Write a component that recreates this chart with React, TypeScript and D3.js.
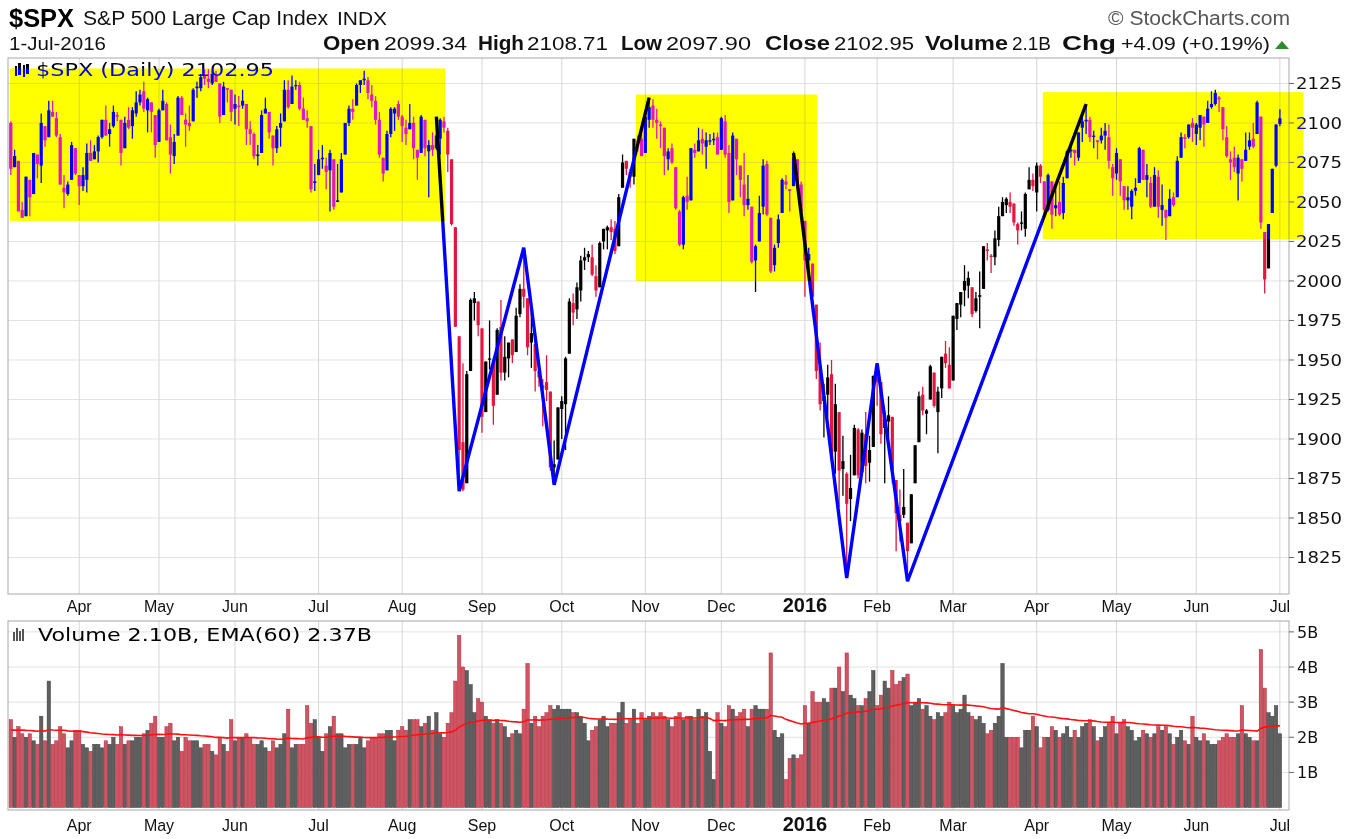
import React from 'react';
import * as d3 from 'd3';

// ---------- calendar ----------
const startDate = '2015-03-06';
const endDate = '2016-07-01';
const holidays = ['2015-04-03', '2015-05-25', '2015-07-03', '2015-09-07', '2015-11-26', '2015-12-25', '2016-01-01', '2016-01-18', '2016-02-15', '2016-03-25', '2016-05-30'];

// ---------- daily OHLC (S&P 500) ----------
const opens = [
  2100,2072,2076,2045,2041,2064,2055,2080,2073,2098,2091,2107,2103,2091,2059,2055,2064,2084,
  2067,2060,2064,2081,2077,2082,2091,2102,2093,2098,2104,2102,2084,2102,2098,2106,2113,2120,2108,2113,2105,
  2088,2108,2112,2091,2079,2092,2116,2102,2100,2101,2122,2122,2130,2128,2125,2130,2125,2105,2122,2121,
  2109,2111,2111,2112,2096,2093,2079,2081,2106,2107,2092,2084,2097,2101,2121,2112,2124,2124,2109,2103,2098,2062,
  2067,2078,2073,2070,2077,2050,2056,2080,2100,2109,2111,2124,2127,2127,2118,2114,2102,2078,2070,2093,2106,2112,
  2104,2097,2096,2100,2083,2081,2102,2082,2086,2084,2090,2101,2095,2077,2034,1965,1898,1872,1943,1986,1987,
  1970,1917,1951,1948,1928,1971,1942,1951,1963,1955,1979,1995,1989,1961,1960,1943,1934,1936,1930,1882,1887,
  1919,1922,1954,1986,1982,1994,2013,2015,2015,2003,1996,2025,2032,2034,2033,2022,2059,2076,2069,2066,2089,2090,
  2081,2102,2111,2102,2098,2097,2077,2084,2072,2044,2023,2054,2051,2083,2082,2090,2085,2089,2089,2091,
  2083,2101,2081,2051,2090,2073,2061,2048,2047,2013,2025,2047,2074,2040,2010,2024,2043,2063,2058,2060,2077,2061,
  2038,2013,2011,1985,1946,1927,1928,1941,1892,1917,1886,1878,1862,1877,1906,1879,1903,1885,1895,
  1936,1936,1907,1911,1914,1874,1848,1857,1847,1834,1872,1898,1928,1916,1925,1942,1917,1932,1954,1947,
  1937,1976,1985,1994,1997,1996,1981,1991,1995,2019,2016,2015,2026,2041,2048,2047,2049,2032,2037,2033,2058,2064,
  2056,2073,2063,2045,2063,2046,2050,2043,2065,2082,2083,2078,2097,2101,2102,2092,2089,2089,2092,2091,2072,
  2068,2077,2060,2053,2047,2057,2062,2083,2067,2062,2047,2066,2045,2045,2041,2053,2053,2078,2091,2091,2100,
  2093,2097,2104,2100,2110,2112,2116,2110,2091,2077,2078,2068,2077,2076,2085,2090,2093,2104,2031,2008,2043,2073,
  2099.34,
];
const highs = [
  2101,2083,2076,2050,2066,2064,2081,2080,2106,2098,2114,2114,2107,2093,2067,2063,2088,2084,
  2067,2072,2087,2089,2086,2092,2102,2111,2100,2111,2107,2102,2104,2110,2110,2120,2121,2126,2116,2113,2105,
  2109,2121,2113,2099,2093,2117,2117,2106,2111,2122,2126,2131,2134,2134,2133,2133,2125,2126,2122,2121,
  2118,2117,2121,2112,2101,2094,2086,2108,2116,2107,2092,2098,2106,2127,2127,2130,2127,2126,2116,2108,2098,2074,
  2083,2086,2078,2083,2077,2074,2081,2100,2111,2115,2125,2127,2133,2129,2124,2117,2107,2078,2095,2110,2110,2114,
  2105,2102,2112,2104,2083,2105,2102,2089,2094,2093,2103,2104,2097,2077,2034,1965,1948,1943,1989,1993,1987,
  1970,1949,1975,1948,1970,1988,1965,1961,1963,1983,1998,2021,1989,1980,1960,1950,1938,1953,1930,1899,1920,
  1927,1952,1989,1992,1999,2016,2021,2019,2023,2010,2025,2033,2035,2039,2038,2055,2080,2076,2071,2090,2092,2095,
  2106,2116,2115,2109,2101,2097,2084,2087,2072,2045,2054,2066,2084,2087,2097,2096,2094,2093,2094,2094,
  2104,2105,2086,2094,2090,2073,2081,2067,2047,2023,2054,2077,2076,2040,2023,2042,2065,2067,2058,2082,2077,2063,
  2038,2021,2011,1985,1961,1935,1947,1950,1935,1917,1902,1879,1890,1909,1907,1906,1917,1902,1940,
  1947,1936,1918,1927,1914,1874,1868,1881,1847,1865,1896,1930,1933,1919,1947,1942,1933,1952,1962,1958,
  1978,1986,1993,2010,2006,1996,1993,2006,2022,2024,2017,2032,2047,2053,2053,2056,2049,2037,2044,2056,2072,2068,
  2075,2074,2063,2068,2063,2060,2063,2066,2083,2088,2083,2094,2104,2111,2104,2095,2089,2097,2100,2099,2074,
  2084,2077,2060,2060,2058,2065,2085,2083,2074,2066,2072,2070,2061,2045,2058,2056,2079,2094,2093,2099,2103,
  2100,2105,2104,2114,2120,2121,2117,2110,2098,2082,2085,2080,2077,2094,2094,2100,2114,2104,2031,2036,2071,2099,
  2108.71,
];
const lows = [
  2067,2072,2044,2040,2041,2041,2055,2065,2062,2085,2091,2104,2091,2061,2046,2054,2064,2067,
  2048,2057,2056,2076,2077,2075,2090,2092,2085,2097,2101,2073,2084,2096,2090,2104,2111,2107,2094,2094,2078,
  2088,2108,2089,2068,2074,2092,2105,2085,2095,2101,2116,2120,2124,2122,2124,2126,2100,2105,2113,2101,
  2099,2098,2109,2086,2086,2077,2073,2081,2106,2090,2073,2081,2085,2101,2109,2112,2121,2108,2102,2097,2056,2057,
  2067,2071,2058,2044,2045,2050,2056,2080,2098,2102,2111,2119,2124,2115,2110,2099,2078,2063,2070,2091,2095,2102,
  2088,2086,2096,2077,2064,2081,2079,2053,2079,2083,2080,2094,2069,2035,1971,1867,1867,1872,1943,1975,1965,
  1904,1917,1944,1909,1928,1937,1937,1939,1948,1955,1977,1983,1953,1945,1930,1933,1908,1924,1880,1872,1887,
  1900,1893,1954,1972,1976,1987,2007,2012,2003,1990,1996,2020,2020,2026,2017,2022,2059,2067,2059,2061,2082,2079,
  2081,2097,2097,2090,2084,2067,2070,2074,2045,2022,2020,2045,2051,2078,2082,2080,2071,2086,2086,2080,
  2083,2078,2043,2051,2067,2053,2041,2045,2011,1993,2025,2042,2041,2005,2006,2021,2043,2058,2044,2060,2061,2043,
  1990,2005,1979,1938,1918,1901,1914,1886,1878,1857,1864,1812,1848,1877,1875,1879,1872,1873,1895,
  1921,1897,1872,1901,1872,1829,1835,1850,1810,1834,1872,1898,1915,1903,1925,1920,1891,1926,1945,1932,
  1937,1969,1977,1984,1989,1977,1980,1970,1995,2013,2005,2010,2022,2041,2043,2043,2035,2023,2032,2028,2058,2057,
  2044,2062,2043,2044,2033,2041,2041,2039,2065,2078,2073,2076,2088,2093,2088,2084,2077,2087,2083,2071,2054,
  2064,2054,2045,2045,2039,2054,2062,2064,2053,2046,2047,2040,2035,2026,2041,2047,2053,2078,2084,2090,2088,
  2086,2089,2085,2100,2109,2111,2107,2089,2078,2064,2069,2051,2063,2076,2083,2084,2093,2033,1992,2008,2043,2072,
  2097.90,
];
const closes = [
  2071,2079,2044,2040,2066,2053,2081,2074,2100,2089,2108,2104,2092,2061,2056,2061,2086,2068,
  2060,2067,2081,2076,2082,2091,2102,2092,2096,2107,2105,2081,2100,2097,2108,2113,2118,2109,2115,2107,2086,
  2108,2114,2089,2080,2088,2116,2105,2099,2098,2121,2123,2129,2128,2126,2131,2126,2104,2123,2121,2107,
  2112,2110,2114,2096,2093,2079,2080,2105,2109,2094,2084,2096,2100,2121,2110,2123,2124,2109,2102,2101,2058,2063,
  2077,2077,2069,2081,2047,2051,2077,2100,2109,2107,2124,2127,2128,2119,2114,2102,2080,2068,2093,2109,2109,2104,
  2098,2093,2100,2084,2078,2104,2084,2086,2083,2092,2102,2097,2080,2036,1971,1893,1868,1941,1988,1989,1972,
  1914,1949,1951,1921,1969,1942,1952,1961,1953,1978,1995,1990,1958,1967,1943,1939,1932,1931,1882,1884,1920,
  1924,1951,1987,1980,1996,2013,2015,2017,2004,1994,2024,2033,2034,2031,2019,2053,2075,2071,2066,2090,2089,2079,
  2104,2110,2102,2100,2099,2079,2082,2075,2046,2023,2053,2050,2084,2081,2089,2087,2089,2089,2090,2080,
  2103,2080,2050,2092,2077,2064,2048,2052,2012,2022,2043,2073,2042,2006,2021,2039,2064,2061,2057,2078,2063,2044,
  2013,2017,1990,1943,1922,1924,1939,1890,1922,1880,1881,1859,1869,1907,1877,1904,1883,1893,1940,
  1939,1903,1913,1915,1880,1853,1852,1852,1829,1865,1896,1927,1918,1918,1946,1921,1930,1952,1948,1932,
  1978,1986,1993,2000,2002,1979,1989,1990,2022,2020,2016,2027,2041,2050,2052,2050,2037,2036,2037,2055,2064,2060,
  2073,2066,2045,2067,2042,2048,2042,2062,2082,2083,2081,2094,2101,2102,2091,2092,2088,2092,2095,2076,2065,
  2081,2063,2051,2051,2057,2059,2084,2064,2064,2047,2067,2047,2048,2040,2052,2048,2076,2091,2090,2099,2097,
  2099,2105,2099,2109,2112,2119,2115,2096,2079,2075,2072,2078,2071,2083,2089,2085,2113,2037,2001,2036,2071,2099,
  2102.95,
];
// daily volume, billions of shares
const volumes = [
  2.5,2.0,2.3,2.1,2.0,2.1,1.9,1.8,2.6,1.9,3.6,1.8,1.9,2.3,2.1,1.7,1.9,2.2,
  2.2,1.8,1.7,1.6,1.8,1.8,1.7,1.9,1.8,2.0,1.8,2.3,1.8,1.9,1.9,2.0,2.0,2.1,2.2,2.4,2.6,
  2.0,2.0,2.3,2.4,1.9,2.0,1.6,2.0,1.9,1.9,1.9,1.7,1.8,1.8,1.6,1.5,2.0,1.8,1.6,2.5,
  1.9,2.0,2.0,2.1,2.0,1.8,1.8,1.9,1.7,1.6,1.9,1.7,1.8,2.1,2.8,1.7,1.8,1.8,1.8,2.9,2.4,2.5,
  2.0,1.6,2.1,2.3,2.6,2.1,2.1,1.7,1.8,1.8,1.8,2.0,1.7,1.9,2.0,2.0,2.1,2.1,2.2,2.2,1.9,2.2,
  2.3,2.2,2.5,2.5,2.5,2.3,2.4,2.6,2.2,2.7,2.1,2.0,2.4,2.7,3.6,4.9,4.0,3.9,3.5,2.7,3.1,
  3.0,2.6,2.5,2.4,2.5,2.4,2.3,2.0,2.1,2.2,2.1,2.8,4.1,2.4,2.6,2.3,2.6,2.7,2.9,2.8,2.9,
  2.8,2.8,2.8,2.7,2.7,2.6,2.4,1.9,2.2,2.3,2.5,2.6,2.3,2.4,2.4,2.7,3.0,2.4,2.5,2.8,2.4,2.7,
  2.5,2.6,2.7,2.6,2.7,2.6,2.5,2.3,2.6,2.7,2.5,2.6,2.6,2.5,2.8,2.6,2.7,1.6,0.8,2.7,
  2.4,2.3,2.9,2.8,2.6,2.7,2.8,2.3,2.8,2.9,2.8,2.8,2.8,4.4,2.2,2.0,2.1,0.8,1.4,1.5,1.4,1.5,
  2.9,2.4,3.3,3.0,3.0,3.1,3.0,3.4,3.4,4.0,3.3,4.4,3.2,3.1,2.9,2.9,3.1,3.3,3.9,
  2.9,3.2,3.6,3.4,3.9,3.5,3.6,3.7,3.8,2.9,3.0,3.1,2.8,2.9,2.6,2.5,2.7,2.6,2.7,3.0,
  2.9,2.7,2.8,3.2,2.7,2.6,2.5,2.6,2.4,2.1,2.2,2.4,2.6,4.1,2.0,2.0,2.0,2.0,1.7,2.2,2.2,2.6,
  2.3,1.7,2.0,2.0,2.3,2.2,2.0,2.1,2.3,2.0,2.2,2.0,2.3,2.4,2.5,2.3,1.9,2.0,2.3,2.4,2.6,
  2.1,2.4,2.5,2.3,2.2,1.9,2.0,2.2,2.1,2.0,2.1,2.3,2.2,2.3,2.1,1.8,2.0,2.2,1.9,1.8,2.6,
  2.0,1.9,2.1,1.9,1.8,1.8,1.9,2.0,2.1,2.0,2.0,2.1,2.9,2.1,2.0,1.9,1.9,4.5,3.4,2.7,2.6,2.9,
  2.1,
];
const emaSeed = 2.2; // EMA(60) value before the first visible day
const emaPeriod = 60;

// ---------- axes ----------
const priceTicks = [1825, 1850, 1875, 1900, 1925, 1950, 1975, 2000, 2025, 2050, 2075, 2100, 2125];
const volumeTicks = [1, 2, 3, 4, 5];

// ---------- annotations (trading-day index, price) ----------
const highlightBoxes = [
  { from: -0.2, to: 114.3, top: 2134.5, bottom: 2038 },
  { from: 164.5, to: 212.2, top: 2118, bottom: 2000 },
  { from: 271.6, to: 340.2, top: 2119.5, bottom: 2026.5 },
];
const trendLine1 = [
  ['2015-08-14', 2104], ['2015-08-24', 1867], ['2015-09-17', 2021], ['2015-09-29', 1871], ['2015-11-03', 2116],
] as [string, number][];
const trendLine2 = [
  ['2015-12-29', 2081], ['2016-01-20', 1812], ['2016-02-01', 1948], ['2016-02-11', 1810], ['2016-04-20', 2112],
] as [string, number][];

// ---------- header ----------
const quoteLabels = ['Open', 'High', 'Low', 'Close', 'Volume', 'Chg'];
const quoteValues = ['2099.34', '2108.71', '2097.90', '2102.95', '2.1B', '+4.09 (+0.19%)'];

const fmt = d3.timeFormat('%Y-%m-%d');
const parse = d3.timeParse('%Y-%m-%d');

function tradingDays(): Date[] {
  const hol = new Set(holidays);
  const s = parse(startDate) as Date;
  const e = d3.timeDay.offset(parse(endDate) as Date, 1);
  return d3.timeDay.range(s, e).filter((d) => d.getDay() !== 0 && d.getDay() !== 6 && !hol.has(fmt(d)));
}

const RED = '#e3173e';
const SANS = "'Liberation Sans', Arial, sans-serif";
const VERD = "'DejaVu Sans', Verdana, sans-serif";

// header layout: [x, width] for each label / value
const quoteLabelPos = [[323, 57], [478, 46], [621, 41], [765, 65], [925, 83], [1062, 54]];
const quoteValuePos = [[384, 83], [527, 81], [666, 85], [834, 80], [1012, 39], [1121, 149]];

export default function App() {
  const W = 1362;
  const H = 839;
  const PL = 8, PR = 1289, PT = 58, PB = 594, VT = 621, VB = 810;

  const dates = tradingDays();
  const n = Math.min(dates.length, opens.length, highs.length, lows.length, closes.length, volumes.length);
  const idxOf = new Map(dates.map((d, i) => [fmt(d), i]));

  const x = d3.scaleLinear().domain([-0.74, 336.4]).range([PL, PR]);
  const y = d3.scaleLinear().domain([1801.9, 2141.1]).range([PB, PT]);
  const yv = d3.scaleLinear().domain([-0.07, 5.31]).range([VB, VT]);

  const monthStarts: { i: number; d: Date }[] = [];
  for (let i = 1; i < dates.length; i++) {
    if (dates[i].getMonth() !== dates[i - 1].getMonth()) monthStarts.push({ i, d: dates[i] });
  }

  const ema: number[] = [];
  let e = emaSeed;
  const k = 2 / (emaPeriod + 1);
  for (let i = 0; i < n; i++) {
    e = e + k * (volumes[i] - e);
    ema.push(e);
  }

  const up = (i: number) => (i === 0 ? closes[i] >= opens[i] : closes[i] >= closes[i - 1]);

  const line = d3.line<[string, number]>()
    .x((p) => x(idxOf.get(p[0]) ?? 0))
    .y((p) => y(p[1]));
  const emaLine = d3.line<number>().x((_, i) => x(i)).y((v) => yv(v));

  const monthLabel = (d: Date) => (d.getMonth() === 0 ? d3.timeFormat('%Y')(d) : d3.timeFormat('%b')(d));

  const axisLabels = (yy: number) =>
    monthStarts.map((m) => (
      <text
        key={'ml' + yy + m.i}
        x={x(m.i)}
        y={yy}
        textAnchor="middle"
        fontFamily={SANS}
        fontSize={m.d.getMonth() === 0 ? 20 : 16}
        fontWeight={m.d.getMonth() === 0 ? 'bold' : 'normal'}
        fill="#111"
      >
        {monthLabel(m.d)}
      </text>
    ));

  return (
    <div style={{ position: 'absolute', left: 0, top: 0 }}>
      <svg width={W} height={H} viewBox={`0 0 ${W} ${H}`} style={{ display: 'block' }}>
        <defs>
          <clipPath id="pclip">
            <rect x={PL} y={PT} width={PR - PL} height={PB - PT} />
          </clipPath>
          <clipPath id="vclip">
            <rect x={PL} y={VT} width={PR - PL} height={VB - VT} />
          </clipPath>
        </defs>
        <rect x={0} y={0} width={W} height={H} fill="#fff" />

        {/* header */}
        <text x={9} y={27} fontFamily={SANS} fontSize={26} fontWeight="bold" fill="#000" textLength={65} lengthAdjust="spacingAndGlyphs">$SPX</text>
        <text x={83} y={25} fontFamily={SANS} fontSize={20} fill="#111" textLength={245} lengthAdjust="spacingAndGlyphs">S&amp;P 500 Large Cap Index</text>
        <text x={337} y={25} fontFamily={SANS} fontSize={19} fill="#111" textLength={50} lengthAdjust="spacingAndGlyphs">INDX</text>
        <text x={1108} y={25} fontFamily={SANS} fontSize={20} fill="#555" textLength={182} lengthAdjust="spacingAndGlyphs">© StockCharts.com</text>
        <text x={9} y={50} fontFamily={SANS} fontSize={19} fill="#111" textLength={97} lengthAdjust="spacingAndGlyphs">1-Jul-2016</text>
        {quoteLabels.map((lab, i) => (
          <text key={'ql' + lab} x={quoteLabelPos[i][0]} y={50} fontFamily={SANS} fontSize={20} fontWeight="bold" fill="#111" textLength={quoteLabelPos[i][1]} lengthAdjust="spacingAndGlyphs">{lab}</text>
        ))}
        {quoteValues.map((v, i) => (
          <text key={'qv' + i} x={quoteValuePos[i][0]} y={50} fontFamily={SANS} fontSize={19} fill="#111" textLength={quoteValuePos[i][1]} lengthAdjust="spacingAndGlyphs">{v}</text>
        ))}
        <path d="M1275,49 L1289,49 L1282,41 Z" fill="#2e8b2e" />

        {/* ===== price panel ===== */}
        {priceTicks.map((t) => (
          <line key={'hg' + t} x1={PL} x2={PR} y1={y(t)} y2={y(t)} stroke="#e2e2e2" strokeWidth={1} />
        ))}
        {monthStarts.map((m) => (
          <line key={'vg' + m.i} x1={x(m.i)} x2={x(m.i)} y1={PT} y2={PB} stroke="#d6d6d6" strokeWidth={1} />
        ))}
        <g clipPath="url(#pclip)">
          {d3.range(n).map((i) => {
            const col = up(i) ? '#000' : RED;
            const xc = x(i);
            const yo = y(opens[i]);
            const yc = y(closes[i]);
            const hi = Math.max(highs[i], opens[i], closes[i]);
            const lo = Math.min(lows[i], opens[i], closes[i]);
            return (
              <g key={'c' + i}>
                <line x1={xc} x2={xc} y1={y(hi)} y2={y(lo)} stroke={col} strokeWidth={1.3} />
                <rect x={xc - 1.6} width={3.2} y={Math.min(yo, yc)} height={Math.max(1.3, Math.abs(yo - yc))} fill={col} />
              </g>
            );
          })}
          <path d={line(trendLine1) || ''} fill="none" stroke="#0000ff" strokeWidth={3.4} strokeLinejoin="miter" />
          <path d={line(trendLine2) || ''} fill="none" stroke="#0000ff" strokeWidth={3.4} strokeLinejoin="miter" />
        </g>
        <rect x={PL} y={PT} width={PR - PL} height={PB - PT} fill="none" stroke="#a8a8a8" strokeWidth={1} />
        {priceTicks.map((t) => (
          <g key={'pt' + t}>
            <line x1={PR} x2={PR + 5} y1={y(t)} y2={y(t)} stroke="#666" strokeWidth={1} />
            <text x={1296} y={y(t) + 6} fontFamily={VERD} fontSize={16} fill="#111" textLength={46} lengthAdjust="spacingAndGlyphs">{t}</text>
          </g>
        ))}
        {/* legend */}
        <g fill="#000">
          <rect x={15} y={66} width={2} height={10} />
          <rect x={18} y={63} width={3} height={12} />
          <rect x={23} y={65} width={2} height={12} />
          <rect x={26} y={64} width={3} height={10} />
        </g>
        <text x={36} y={76} fontFamily={VERD} fontSize={17} fill="#000" textLength={238} lengthAdjust="spacingAndGlyphs">$SPX (Daily) 2102.95</text>
        {/* highlight boxes (XOR-like blending) */}
        {highlightBoxes.map((b, j) => (
          <rect
            key={'hb' + j}
            x={x(b.from)}
            y={y(b.top)}
            width={x(b.to) - x(b.from)}
            height={y(b.bottom) - y(b.top)}
            fill="#0000ff"
            style={{ mixBlendMode: 'difference' }}
          />
        ))}

        {axisLabels(612)}

        {/* ===== volume panel ===== */}
        {volumeTicks.map((t) => (
          <line key={'vh' + t} x1={PL} x2={PR} y1={yv(t)} y2={yv(t)} stroke="#e2e2e2" strokeWidth={1} />
        ))}
        {monthStarts.map((m) => (
          <line key={'vv' + m.i} x1={x(m.i)} x2={x(m.i)} y1={VT} y2={VB} stroke="#d6d6d6" strokeWidth={1} />
        ))}
        <g clipPath="url(#vclip)">
          {d3.range(n).map((i) => {
            const u = up(i);
            return (
              <rect
                key={'v' + i}
                x={x(i) - 1.7}
                width={3.4}
                y={yv(volumes[i])}
                height={yv(0) - yv(volumes[i])}
                fill={u ? '#5f5f5f' : '#cf5563'}
                stroke={u ? '#3c3c3c' : '#b02a3c'}
                strokeWidth={0.5}
              />
            );
          })}
          <path d={emaLine(ema) || ''} fill="none" stroke="#ff1010" strokeWidth={1.6} />
        </g>
        <rect x={PL} y={VT} width={PR - PL} height={VB - VT} fill="none" stroke="#a8a8a8" strokeWidth={1} />
        {volumeTicks.map((t) => (
          <g key={'vt' + t}>
            <line x1={PR} x2={PR + 5} y1={yv(t)} y2={yv(t)} stroke="#666" strokeWidth={1} />
            <text x={1297} y={yv(t) + 6} fontFamily={VERD} fontSize={16} fill="#111">{t + 'B'}</text>
          </g>
        ))}
        <g fill="#555">
          <rect x={13} y={632} width={2} height={9} />
          <rect x={16} y={628} width={2} height={13} />
          <rect x={19} y={631} width={2} height={10} />
          <rect x={22} y={629} width={2} height={12} />
        </g>
        <text x={38} y={641} fontFamily={VERD} fontSize={17} fill="#000" textLength={334} lengthAdjust="spacingAndGlyphs">Volume 2.10B, EMA(60) 2.37B</text>

        {axisLabels(831)}
      </svg>
    </div>
  );
}
